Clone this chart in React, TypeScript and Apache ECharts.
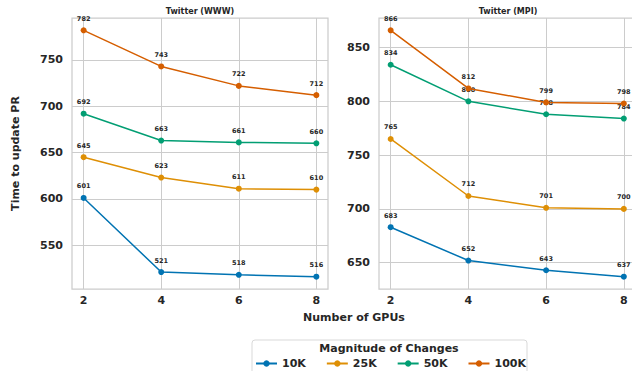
import React, { useEffect, useRef } from "react";
import * as echarts from "echarts";

const gpus = [2, 4, 6, 8];
const seriesNames = ["10K", "25K", "50K", "100K"];
const colors = ["#0173b2", "#de8f05", "#029e73", "#d55e00"];
const www10K = [601, 521, 518, 516];
const www25K = [645, 623, 611, 610];
const www50K = [692, 663, 661, 660];
const www100K = [782, 743, 722, 712];
const mpi10K = [683, 652, 643, 637];
const mpi25K = [765, 712, 701, 700];
const mpi50K = [834, 800, 788, 784];
const mpi100K = [866, 812, 799, 798];
const wwwTicks = [550, 600, 650, 700, 750];
const mpiTicks = [650, 700, 750, 800, 850];
const xTicks = [2, 4, 6, 8];

const FONT = "DejaVu Sans";
const GRIDC = "#cccccc";
const TXT = "#262626";

export default function App() {
  const ref = useRef<HTMLDivElement>(null);
  useEffect(() => {
    if (!ref.current) return;
    const chart = echarts.init(ref.current, null, { renderer: "svg" });
    const www = [www10K, www25K, www50K, www100K];
    const mpi = [mpi10K, mpi25K, mpi50K, mpi100K];
    const pad = (arr: number[][]) => {
      const all = arr.flat();
      const lo = Math.min(...all), hi = Math.max(...all);
      const m = (hi - lo) * 0.05;
      return [lo - m, hi + m];
    };
    const [wMin, wMax] = pad(www);
    const [mMin, mMax] = pad(mpi);
    const xAxisBase = (gi: number) => ({
      type: "value",
      gridIndex: gi,
      min: 1.7,
      max: 8.3,
      axisLine: { show: false },
      axisTick: { show: false, customValues: xTicks },
      axisLabel: {
        customValues: xTicks,
        fontFamily: FONT,
        fontWeight: "bold",
        fontSize: 11,
        color: TXT,
        margin: 6,
      },
      splitLine: { show: true, lineStyle: { color: GRIDC, width: 1 } },
    });
    const yAxisBase = (gi: number, mn: number, mx: number, ticks: number[]) => ({
      type: "value",
      gridIndex: gi,
      min: mn,
      max: mx,
      axisLine: { show: false },
      axisTick: { show: false, customValues: ticks },
      axisLabel: {
        customValues: ticks,
        fontFamily: FONT,
        fontWeight: "bold",
        fontSize: 11,
        color: TXT,
        margin: 9,
      },
      splitLine: { show: true, lineStyle: { color: GRIDC, width: 1 } },
    });
    const mk = (name: string, vals: number[], idx: number, gi: number) => ({
      name,
      type: "line",
      xAxisIndex: gi,
      yAxisIndex: gi,
      data: gpus.map((g, i) => [g, vals[i]]),
      symbol: "circle",
      symbolSize: 6,
      lineStyle: { color: colors[idx], width: 1.5 },
      itemStyle: { color: colors[idx] },
      label: {
        show: true,
        position: "top",
        distance: 5,
        fontFamily: FONT,
        fontWeight: "bold",
        fontSize: 6.5,
        color: TXT,
        formatter: (p: any) => String(p.value[1]),
      },
      z: 3 + idx,
    });
    const series: any[] = [];
    www.forEach((v, i) => series.push(mk(seriesNames[i], v, i, 0)));
    mpi.forEach((v, i) => series.push(mk(seriesNames[i], v, i, 1)));

    const yLeft: any = yAxisBase(0, wMin, wMax, wwwTicks);
    yLeft.name = "Time to update PR";
    yLeft.nameLocation = "middle";
    yLeft.nameGap = 51;
    yLeft.nameTextStyle = { fontFamily: FONT, fontWeight: "bold", fontSize: 11, color: TXT };

    chart.setOption({
      animation: false,
      backgroundColor: "#ffffff",
      grid: [
        { left: 72, top: 18, width: 256, height: 271, show: true, borderColor: GRIDC, borderWidth: 1.25, backgroundColor: "transparent" },
        { left: 379, top: 18, width: 256.5, height: 271, show: true, borderColor: GRIDC, borderWidth: 1.25, backgroundColor: "transparent" },
      ],
      xAxis: [xAxisBase(0), xAxisBase(1)],
      yAxis: [yLeft, yAxisBase(1, mMin, mMax, mpiTicks)],
      legend: {
        data: seriesNames,
        left: 250,
        top: 353,
        itemWidth: 21,
        itemHeight: 8,
        itemGap: 20,
        textStyle: { fontFamily: FONT, fontWeight: "bold", fontSize: 11, color: TXT },
      },
      graphic: [
        { type: "rect", shape: { x: 252, y: 340, width: 275, height: 40, r: 3 }, style: { fill: "#ffffff", stroke: "#d9d9d9", lineWidth: 1 }, z: -1 },
        { type: "text", x: 389, y: 348, style: { text: "Magnitude of Changes", fontFamily: FONT, fontWeight: "bold", fontSize: 11, fill: TXT, align: "center", verticalAlign: "middle" } },
        { type: "text", x: 200, y: 11, style: { text: "Twitter (WWW)", fontFamily: FONT, fontWeight: "bold", fontSize: 8, fill: TXT, align: "center", verticalAlign: "middle" } },
        { type: "text", x: 508, y: 11, style: { text: "Twitter (MPI)", fontFamily: FONT, fontWeight: "bold", fontSize: 8, fill: TXT, align: "center", verticalAlign: "middle" } },
        { type: "text", x: 354, y: 317, style: { text: "Number of GPUs", fontFamily: FONT, fontWeight: "bold", fontSize: 11, fill: TXT, align: "center", verticalAlign: "middle" } },
      ],
      series,
    });
    return () => chart.dispose();
  }, []);
  return (
    <div style={{ position: "fixed", left: 0, top: 0, width: 632, height: 371, overflow: "hidden", background: "#fff" }}>
      <div ref={ref} style={{ width: 640, height: 371 }} />
    </div>
  );
}
